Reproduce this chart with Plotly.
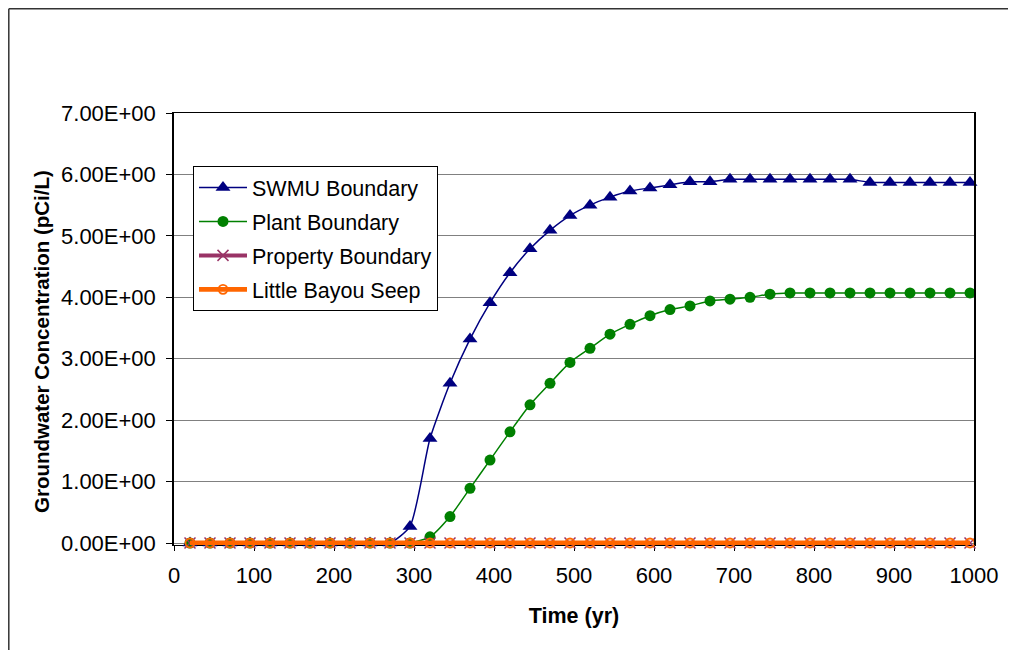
import plotly.graph_objects as go

# ---- data ----
time_yr = [20, 45, 70, 95, 120, 145, 170, 195, 220, 245,
           270, 295, 320, 345, 370, 395, 420, 445, 470, 495,
           520, 545, 570, 595, 620, 645, 670, 695, 720, 745,
           770, 795, 820, 845, 870, 895, 920, 945, 970, 995]

swmu_boundary = [0, 0, 0, 0, 0, 0, 0, 0, 0, 0,
                 0, 0.27, 1.70, 2.60, 3.32, 3.91, 4.40, 4.79, 5.09, 5.33,
                 5.50, 5.63, 5.73, 5.78, 5.83, 5.88, 5.88, 5.92, 5.92, 5.92,
                 5.92, 5.92, 5.92, 5.92, 5.87, 5.87, 5.87, 5.87, 5.87, 5.87]

plant_boundary = [0, 0, 0, 0, 0, 0, 0, 0, 0, 0,
                  0, 0, 0.10, 0.43, 0.89, 1.35, 1.81, 2.25, 2.60, 2.94,
                  3.17, 3.40, 3.56, 3.70, 3.80, 3.86, 3.94, 3.97, 4.00, 4.05,
                  4.07, 4.07, 4.07, 4.07, 4.07, 4.07, 4.07, 4.07, 4.07, 4.07]

property_boundary = [0, 0, 0, 0, 0, 0, 0, 0, 0, 0,
                     0, 0, 0, 0, 0, 0, 0, 0, 0, 0,
                     0, 0, 0, 0, 0, 0, 0, 0, 0, 0,
                     0, 0, 0, 0, 0, 0, 0, 0, 0, 0]

little_bayou_seep = [0, 0, 0, 0, 0, 0, 0, 0, 0, 0,
                     0, 0, 0, 0, 0, 0, 0, 0, 0, 0,
                     0, 0, 0, 0, 0, 0, 0, 0, 0, 0,
                     0, 0, 0, 0, 0, 0, 0, 0, 0, 0]

y_tick_vals = [0, 1, 2, 3, 4, 5, 6, 7]
y_tick_text = ["0.00E+00", "1.00E+00", "2.00E+00", "3.00E+00",
               "4.00E+00", "5.00E+00", "6.00E+00", "7.00E+00"]
x_tick_vals = [0, 100, 200, 300, 400, 500, 600, 700, 800, 900, 1000]

FONT = "Liberation Sans, Arial, sans-serif"

# figure is placed by the page with an 8px body margin
W, H = 1008, 642
ML, MR, MT, MB = 166, 42, 105, 105   # plot area: page x 174-974, y 113-545
PW, PH = W - ML - MR, H - MT - MB

fig = go.Figure()
fig.add_trace(go.Scatter(
    x=time_yr, y=swmu_boundary, name="SWMU Boundary", legendgroup="a",
    mode="lines+markers", cliponaxis=False,
    line=dict(color="#000080", width=1.5, shape="spline", smoothing=0.6),
    marker=dict(symbol="triangle-up", size=13, color="#000080")))
fig.add_trace(go.Scatter(
    x=time_yr, y=plant_boundary, name="Plant Boundary", legendgroup="b",
    mode="lines+markers", cliponaxis=False,
    line=dict(color="#008000", width=1.5, shape="spline", smoothing=0.6),
    marker=dict(symbol="circle", size=11, color="#008000")))
fig.add_trace(go.Scatter(
    x=time_yr, y=property_boundary, name="Property Boundary", legendgroup="c",
    mode="lines+markers", cliponaxis=False,
    line=dict(color="#993366", width=4),
    marker=dict(symbol="x-thin", size=11, line=dict(color="#993366", width=1.5))))
fig.add_trace(go.Scatter(
    x=time_yr, y=little_bayou_seep, name="Little Bayou Seep", legendgroup="d",
    mode="lines+markers", cliponaxis=False,
    line=dict(color="#FF6600", width=4.8),
    marker=dict(symbol="circle-open", size=9, color="#FF6600", line=dict(width=1.8))))

# outer chart frame (left and top edges visible in the reference)
fig.add_shape(type="line", xref="paper", yref="paper",
              x0=(0.8 - ML) / PW, x1=(W - ML) / PW,
              y0=(PH + MT - 0.8) / PH, y1=(PH + MT - 0.8) / PH,
              line=dict(color="#333333", width=1.5))
fig.add_shape(type="line", xref="paper", yref="paper",
              x0=(0.8 - ML) / PW, x1=(0.8 - ML) / PW,
              y0=(PH + MT - 0.8) / PH, y1=-MB / PH,
              line=dict(color="#333333", width=1.5))

# y-axis title (placed like the reference, slightly below the plot centre)
fig.add_annotation(
    text="<b>Groundwater Concentration (pCi/L)</b>", textangle=-90,
    xref="paper", yref="paper",
    x=(41 - 8 - ML) / PW, y=(PH + MT - (342 - 8)) / PH,
    xanchor="center", yanchor="middle", showarrow=False,
    font=dict(family=FONT, size=20.5, color="black"))

fig.update_layout(
    width=W, height=H,
    margin=dict(l=ML, r=MR, t=MT, b=MB, autoexpand=False),
    paper_bgcolor="white", plot_bgcolor="white",
    font=dict(family=FONT, size=21, color="black"),
    showlegend=True,
    legend=dict(
        x=(193 - 8 - ML) / PW, y=(PH + MT - (166 - 8)) / PH,
        xanchor="left", yanchor="top",
        bgcolor="white", bordercolor="black", borderwidth=1,
        font=dict(family=FONT, size=21.5, color="black"),
        traceorder="grouped", tracegroupgap=3, itemwidth=48,
    ),
    xaxis=dict(
        range=[0, 1000], tickvals=x_tick_vals, ticks="outside", ticklen=5,
        tickcolor="black", showline=True, linecolor="black", linewidth=1,
        mirror=True, showgrid=False, zeroline=False, layer="below traces",
        tickfont=dict(family=FONT, size=22), ticklabelstandoff=6,
        title=dict(text="<b>Time (yr)</b>", font=dict(family=FONT, size=21.5), standoff=20),
    ),
    yaxis=dict(
        range=[-0.0326, 7], tickvals=y_tick_vals, ticktext=y_tick_text, ticks="outside",
        ticklen=6, tickcolor="black", showline=True, linecolor="black", linewidth=1.5,
        mirror=True, showgrid=True, gridcolor="#808080", gridwidth=1, zeroline=False,
        tickfont=dict(family=FONT, size=22), ticklabelstandoff=6,
    ),
)

fig.write_html("out.html")
